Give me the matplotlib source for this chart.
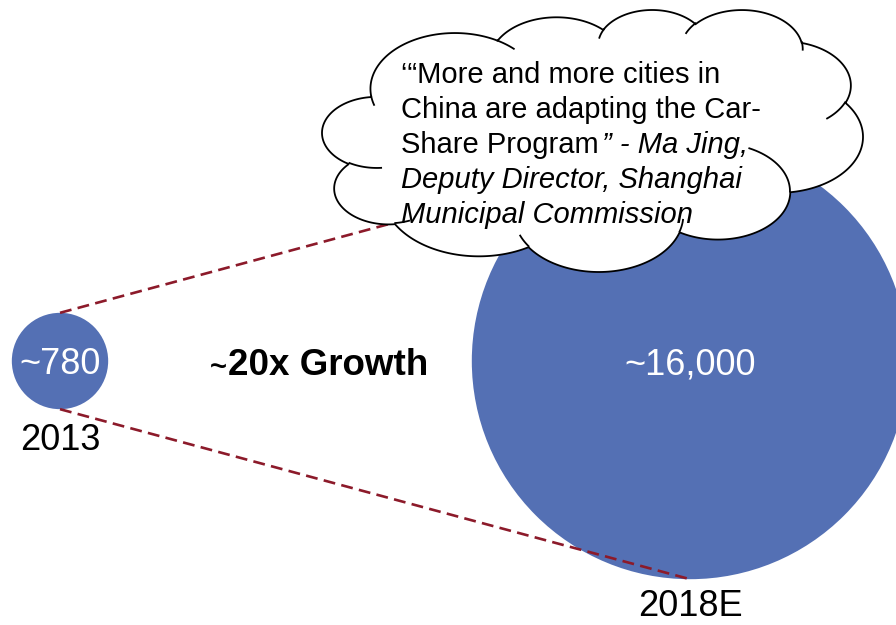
import numpy as np
import matplotlib
matplotlib.use('Agg')
from matplotlib import pyplot as plt
from matplotlib.patches import Circle, Polygon

plt.rcParams['font.family'] = ['Liberation Sans', 'DejaVu Sans']

# car-share fleet, 2013 actual vs 2018 estimate
years = ['2013', '2018E']
fleet = [780, 16000]
fleet_labels = ['~780', '~16,000']
growth_label = ['~', '20x Growth']

quote_lines = [
    [('‘“More and more cities in', 'normal')],
    [('China are adapting the Car-', 'normal')],
    [('Share Program', 'normal'), ('” - Ma Jing,', 'italic')],
    [('Deputy Director, Shanghai', 'italic')],
    [('Municipal Commission', 'italic')],
]

BLUE = '#5470b4'
DASH = '#8c1a2a'

# preset cloud outline (43200 unit box): start point, then arcs (wR, hR, stAng, swAng)
CLOUD_START = (3900, 14370)
CLOUD_ARCS = [
    (6753, 9190, -11429249, 7426832),
    (5333, 7267, -8646143, 5396714),
    (4365, 5945, -8748475, 5983381),
    (4857, 6595, -7859164, 7034504),
    (5333, 7273, -4722533, 6541615),
    (6775, 9220, -2776035, 7816140),
    (5785, 7867, 37501, 6842000),
    (6752, 9215, 1347096, 6910353),
    (7720, 10543, 3974558, 4542661),
    (4360, 5918, -16496525, 8804134),
    (4345, 5945, -14809710, 9151131),
]
# little inner strokes where the puffs meet
CLOUD_STUBS = [
    ((4693, 26177), (4345, 5945, 5204520, 1585770)),
    ((6928, 34899), (4360, 5918, 4416628, 686848)),
    ((16478, 39090), (6752, 9215, 8257449, 844866)),
    ((28827, 34751), (6752, 9215, 387196, 959901)),
    ((34129, 22954), (5785, 7867, -4217541, 4255042)),
    ((41798, 15354), (5333, 7273, 1819082, 1665090)),
    ((38324, 5426), (4857, 6595, -824660, 891534)),
    ((29078, 3952), (4857, 6595, -8950887, 1091722)),
    ((22141, 4720), (4365, 5945, -9809656, 1061181)),
    ((14000, 5192), (6753, 9190, -4002417, 739161)),
    ((4127, 15789), (6753, 9190, 9459261, 711490)),
]


def arc_points(p, wr, hr, st, sw, n=80):
    st = np.deg2rad(st / 60000)
    sw = np.deg2rad(sw / 60000)
    vis = np.linspace(st, st + sw, n)
    par = np.unwrap(np.arctan2(wr * np.sin(vis), hr * np.cos(vis)))
    cx = p[0] - wr * np.cos(par[0])
    cy = p[1] - hr * np.sin(par[0])
    return np.column_stack([cx + wr * np.cos(par), cy + hr * np.sin(par)])


def cloud_paths(box):
    pts = [np.array([CLOUD_START])]
    for arc in CLOUD_ARCS:
        seg = arc_points(pts[-1][-1], *arc)
        pts.append(seg[1:])
    outline = np.vstack(pts)
    stubs = [arc_points(p, *arc, n=30) for p, arc in CLOUD_STUBS]
    x0, x1, y0, y1 = box
    lo = outline.min(axis=0)
    hi = outline.max(axis=0)
    scale = np.array([(x1 - x0) / (hi[0] - lo[0]), (y1 - y0) / (hi[1] - lo[1])])
    fit = lambda a: (a - lo) * scale + np.array([x0, y0])
    return fit(outline), [fit(s) for s in stubs]


fig = plt.figure(figsize=(8.96, 6.25), dpi=100)
ax = fig.add_axes([0, 0, 1, 1])
ax.set_xlim(0, 896)
ax.set_ylim(625, 0)
ax.axis('off')

# bubble area proportional to fleet size
k = 1.725
cx = [60, 690]
cy = 361
radii = [k * np.sqrt(v) for v in fleet]
year_y = [450, 616]

for x, r, lab, yr, yy in zip(cx, radii, fleet_labels, years, year_y):
    ax.add_patch(Circle((x, cy), r, facecolor=BLUE, edgecolor='none', zorder=1))
    ax.text(x, cy, lab, color='white', fontsize=26, ha='center', va='center_baseline', zorder=2)
    ax.text(x, yy, yr, color='black', fontsize=26, ha='center', va='baseline', zorder=2)

# connector lines top-to-top and bottom-to-bottom
for sgn in (-1, 1):
    ax.plot([cx[0], cx[1]], [cy + sgn * radii[0], cy + sgn * radii[1]],
            color=DASH, lw=1.9, dashes=(4.5, 2.4), zorder=1.5)

ax.text(228, 375, growth_label[1], fontsize=26.5, fontweight='bold', ha='left', va='baseline')
ax.text(227, 375, growth_label[0], fontsize=21, fontweight='bold', ha='right', va='baseline')

outline, stubs = cloud_paths((322, 863, 10, 272))
ax.add_patch(Polygon(outline, closed=True, facecolor='white', edgecolor='black', lw=1.3, zorder=3))
for s in stubs:
    ax.plot(s[:, 0], s[:, 1], color='black', lw=1.3, zorder=4)

fig.canvas.draw()
inv = ax.transData.inverted()
y = 83
for line in quote_lines:
    x = 401
    for txt, style in line:
        tt = ax.text(x, y, txt, fontsize=21, fontstyle=style, ha='left', va='baseline', zorder=5)
        bb = tt.get_window_extent(renderer=fig.canvas.get_renderer())
        x = inv.transform((bb.x1, bb.y0))[0] + 3
    y += 35

fig.savefig('out.png', dpi=100)
